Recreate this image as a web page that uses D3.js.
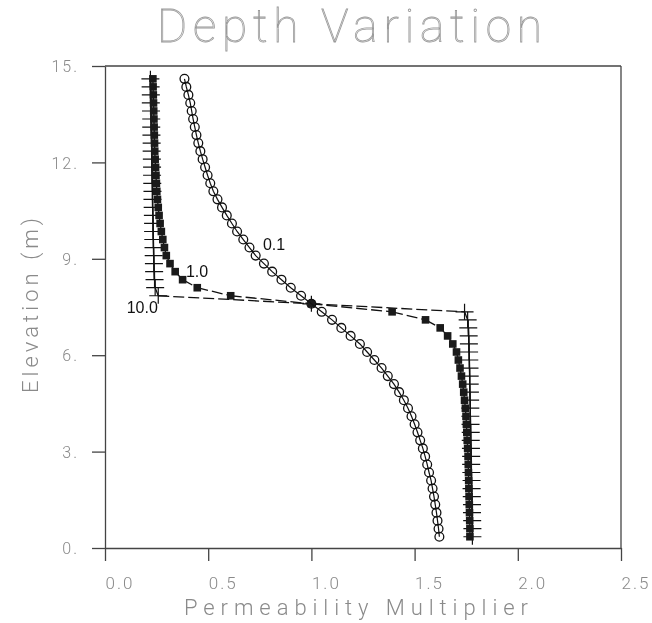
<!DOCTYPE html>
<html>
<head>
<meta charset="utf-8">
<script src="https://cdn.jsdelivr.net/npm/d3@7"></script>
<style>
body { margin: 0; background: #fff; }
svg { display: block; will-change: transform; }
.thin { font-family: Roboto, "DejaVu Sans", sans-serif; font-weight: 100; }
.light { font-family: Roboto, "DejaVu Sans", sans-serif; font-weight: 300; }
.note { font-family: "Liberation Sans", Arial, sans-serif; font-size: 16px; fill: #111; }
</style>
</head>
<body>
<svg width="652" height="623"></svg>
<script>
// elevation of every grid cell (m), top to bottom
var elevation = [14.6, 14.35, 14.1, 13.85, 13.6, 13.35, 13.1, 12.85, 12.6, 12.35,
                 12.1, 11.85, 11.6, 11.35, 11.1, 10.85, 10.6, 10.35, 10.1, 9.85,
                 9.6, 9.35, 9.1, 8.85, 8.6, 8.35, 8.1, 7.85, 7.6, 7.35,
                 7.1, 6.85, 6.6, 6.35, 6.1, 5.85, 5.6, 5.35, 5.1, 4.85,
                 4.6, 4.35, 4.1, 3.85, 3.6, 3.35, 3.1, 2.85, 2.6, 2.35,
                 2.1, 1.85, 1.6, 1.35, 1.1, 0.85, 0.6, 0.35];

// permeability multiplier for ratio 0.1
var mult01 = [0.385, 0.394, 0.404, 0.413, 0.42, 0.427, 0.435, 0.443, 0.452, 0.462,
              0.473, 0.485, 0.497, 0.51, 0.525, 0.545, 0.567, 0.59, 0.615, 0.64,
              0.67, 0.70, 0.73, 0.77, 0.81, 0.855, 0.90, 0.95, 1.0, 1.05,
              1.10, 1.145, 1.19, 1.235, 1.27, 1.305, 1.34, 1.37, 1.40, 1.425,
              1.448, 1.468, 1.485, 1.50, 1.514, 1.527, 1.54, 1.551, 1.561, 1.57,
              1.58, 1.587, 1.594, 1.60, 1.606, 1.611, 1.616, 1.62];

// ratio 1.0
var mult1 = [0.232, 0.233, 0.234, 0.235, 0.236, 0.237, 0.238, 0.239, 0.240, 0.241,
             0.243, 0.245, 0.247, 0.249, 0.251, 0.254, 0.258, 0.262, 0.267, 0.273,
             0.28, 0.288, 0.297, 0.315, 0.34, 0.376, 0.447, 0.609, 1.0, 1.391,
             1.553, 1.624, 1.66, 1.685, 1.703, 1.712, 1.72, 1.727, 1.733, 1.738,
             1.742, 1.746, 1.749, 1.751, 1.753, 1.755, 1.757, 1.759, 1.76, 1.761,
             1.762, 1.763, 1.764, 1.765, 1.766, 1.767, 1.768, 1.768];

// ratio 10.0
var mult10 = [0.220, 0.221, 0.222, 0.222, 0.223, 0.224, 0.224, 0.225, 0.226, 0.226,
              0.227, 0.228, 0.228, 0.229, 0.230, 0.230, 0.231, 0.232, 0.233, 0.233,
              0.234, 0.235, 0.236, 0.237, 0.238, 0.240, 0.243, 0.258, 1.0, 1.742,
              1.757, 1.760, 1.762, 1.763, 1.764, 1.765, 1.766, 1.767, 1.767, 1.768,
              1.769, 1.770, 1.770, 1.771, 1.772, 1.772, 1.773, 1.774, 1.774, 1.775,
              1.776, 1.776, 1.777, 1.778, 1.778, 1.779, 1.780, 1.780];

var xTicks = [0, 0.5, 1.0, 1.5, 2.0, 2.5];
var xTickLabels = ["0.0", "0.5", "1.0", "1.5", "2.0", "2.5"];
var yTicks = [0, 3, 6, 9, 12, 15];
var yTickLabels = ["0.", "3.", "6.", "9.", "12.", "15."];

// curve labels: text, multiplier, elevation where the text starts
var curveLabels = [["0.1", 0.765, 9.27], ["1.0", 0.392, 8.44], ["10.0", 0.105, 7.31]];

var svg = d3.select("svg");
var axisColor = "#444";
var textColor = "#8a8a8a";

var x = d3.scaleLinear().domain([0, 2.5]).range([105, 621]);
var y = d3.scaleLinear().domain([0, 15]).range([548, 66]);

function pts(vals) {
	return vals.map(function (v, i) { return [v, elevation[i]]; });
}

// frame top and right
svg.append("line")
.attr("x1", x(0)).attr("x2", x(2.5)).attr("y1", y(15)).attr("y2", y(15))
.style("stroke", axisColor).style("stroke-width", 1.3);
svg.append("line")
.attr("x1", x(2.5)).attr("x2", x(2.5)).attr("y1", y(15)).attr("y2", y(0))
.style("stroke", axisColor).style("stroke-width", 1.3);

var bottom = d3.axisBottom(x).tickValues(xTicks)
	.tickFormat(function (d, i) { return xTickLabels[i]; })
	.tickSize(13).tickSizeOuter(0);
var left = d3.axisLeft(y).tickValues(yTicks)
	.tickFormat(function (d, i) { return yTickLabels[i]; })
	.tickSize(13).tickSizeOuter(0);

var gx = svg.append("g")
.attr("transform", "translate(0," + y(0) + ")")
.call(bottom);
gx.selectAll("text")
.attr("class", "light")
.attr("text-anchor", "start")
.attr("x", 0).attr("y", 41).attr("dy", 0)
.style("font-size", "17px").style("letter-spacing", "2px")
.style("fill", textColor);

var gy = svg.append("g")
.attr("transform", "translate(" + x(0) + ",0)")
.call(left);
gy.selectAll("text")
.attr("class", "light")
.attr("x", -26).attr("dy", "0.36em")
.style("font-size", "16px").style("letter-spacing", "2px")
.style("fill", textColor);

svg.selectAll(".domain, .tick line")
.style("stroke", axisColor).style("stroke-width", 1.3);

// ratio 10.0 : line dashed per segment, plus markers
var p10 = pts(mult10);
d3.pairs(p10).forEach(function (s) {
	svg.append("line")
	.attr("x1", x(s[0][0])).attr("y1", y(s[0][1]))
	.attr("x2", x(s[1][0])).attr("y2", y(s[1][1]))
	.style("stroke", "#111").style("stroke-width", 1.3)
	.style("stroke-dasharray", "11,4");
});
p10.forEach(function (d) {
	svg.append("path")
	.attr("d", "M-9,0H9M0,-8V8")
	.attr("transform", "translate(" + x(d[0]) + "," + y(d[1]) + ")")
	.style("stroke", "#111").style("stroke-width", 1.2).style("fill", "none");
});

// ratio 1.0 : dashed, filled squares
var p1 = pts(mult1);
d3.pairs(p1).forEach(function (s) {
	svg.append("line")
	.attr("x1", x(s[0][0])).attr("y1", y(s[0][1]))
	.attr("x2", x(s[1][0])).attr("y2", y(s[1][1]))
	.style("stroke", "#111").style("stroke-width", 1.3)
	.style("stroke-dasharray", "11,4");
});
p1.forEach(function (d) {
	svg.append("rect")
	.attr("x", x(d[0]) - 3.8).attr("y", y(d[1]) - 3.8)
	.attr("width", 7.6).attr("height", 7.6)
	.style("fill", "#1a1a1a");
});

// ratio 0.1 : solid, open circles
var p01 = pts(mult01);
svg.append("path")
.datum(p01)
.attr("d", d3.line().x(function (d) { return x(d[0]); }).y(function (d) { return y(d[1]); }))
.style("stroke", "#111").style("stroke-width", 1.2).style("fill", "none");
p01.forEach(function (d) {
	svg.append("circle")
	.attr("cx", x(d[0])).attr("cy", y(d[1])).attr("r", 4.4)
	.style("stroke", "#111").style("stroke-width", 1.3).style("fill", "none");
});

curveLabels.forEach(function (c) {
	svg.append("text")
	.attr("class", "note")
	.attr("x", x(c[1])).attr("y", y(c[2]))
	.text(c[0]);
});

// titles
svg.append("text")
.attr("class", "thin")
.attr("x", 157).attr("y", 42)
.attr("textLength", 385).attr("lengthAdjust", "spacing")
.style("font-size", "46px")
.style("fill", "none").style("stroke", "#9a9a9a").style("stroke-width", 0.8)
.text("Depth Variation");

svg.append("text")
.attr("class", "light")
.attr("x", 184).attr("y", 615)
.attr("textLength", 344).attr("lengthAdjust", "spacing")
.style("font-size", "22px").style("fill", textColor)
.text("Permeability Multiplier");

svg.append("text")
.attr("class", "light")
.attr("transform", "translate(38," + (218 + 175) + ") rotate(-90)")
.attr("textLength", 175).attr("lengthAdjust", "spacing")
.style("font-size", "22px").style("fill", textColor)
.text("Elevation (m)");
</script>
</body>
</html>
